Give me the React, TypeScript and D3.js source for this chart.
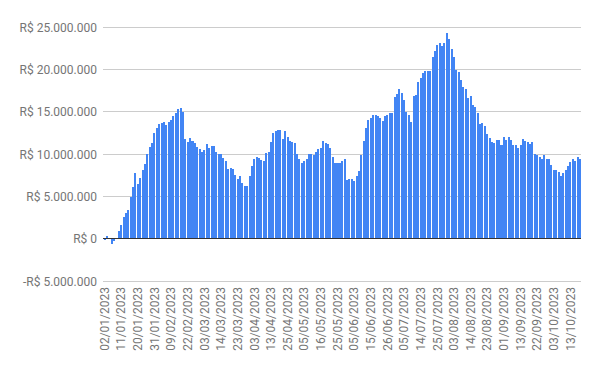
import React from "react";
import * as d3 from "d3";

// Net flow per trading day, in millions of R$
const netFlowMillions: number[] = [
  -0.27, 0.27, 0, -0.73, -0.35, 0, 0.85, 1.5, 2.5, 3.0,
  3.35, 4.9, 6.0, 7.7, 6.4, 7.1, 8.1, 8.8, 10.0, 10.8,
  11.2, 12.4, 13.0, 13.5, 13.6, 13.7, 13.4, 13.7, 14.0, 14.4,
  14.8, 15.2, 15.4, 14.9, 11.7, 11.4, 11.8, 11.5, 11.2, 10.8,
  10.5, 10.2, 10.4, 11.1, 10.7, 10.9, 10.9, 10.2, 10.0, 10.0,
  9.5, 9.1, 8.2, 8.3, 8.2, 7.5, 7.0, 7.3, 6.5, 6.2,
  6.2, 7.4, 8.5, 9.4, 9.6, 9.5, 9.2, 9.1, 10.1, 10.2,
  11.4, 12.4, 12.7, 12.8, 12.8, 11.7, 12.7, 12.0, 11.5, 11.4,
  11.2, 9.9, 9.4, 8.9, 9.1, 9.4, 10.0, 10.0, 9.8, 10.2,
  10.5, 10.7, 11.5, 11.2, 11.1, 10.7, 9.6, 8.9, 8.9, 8.9,
  9.1, 9.3, 6.9, 7.0, 7.0, 6.8, 7.3, 7.9, 9.8, 11.5,
  13.0, 13.9, 14.2, 14.5, 14.5, 14.4, 14.2, 13.8, 14.4, 14.5,
  14.8, 14.8, 16.7, 17.0, 17.6, 17.1, 16.3, 14.9, 14.5, 13.7,
  16.8, 16.9, 18.5, 18.9, 19.5, 19.7, 19.8, 19.8, 21.4, 22.1,
  22.8, 23.1, 22.7, 23.0, 24.2, 23.5, 22.4, 21.4, 19.9, 19.6,
  18.7, 17.8, 17.6, 16.6, 16.8, 15.7, 15.5, 14.8, 13.5, 13.6,
  13.3, 12.3, 11.8, 11.3, 11.2, 11.6, 11.6, 11.0, 12.0, 11.6,
  11.9, 11.6, 11.0, 11.0, 10.7, 11.0, 11.7, 11.5, 11.3, 11.1,
  11.3, 10.0, 9.8, 9.6, 9.3, 9.8, 9.3, 9.3, 8.7, 8.1,
  8.1, 7.8, 7.3, 7.7, 8.0, 8.5, 9.0, 9.4, 9.1, 9.6,
  9.3,
];

// Trading-day calendar (B3, 2023)
const firstDay = new Date(2023, 0, 2);
const lastDay = new Date(2023, 9, 19);
const holidays: string[] = [
  "2023-02-20", "2023-02-21", "2023-04-07", "2023-04-21",
  "2023-05-01", "2023-06-08", "2023-09-07", "2023-10-12",
];

const yTicks: number[] = [-5e6, 0, 5e6, 10e6, 15e6, 20e6, 25e6];
const labelEvery = 7;

const W = 600;
const H = 371;

const isoFmt = d3.timeFormat("%Y-%m-%d");
const dateFmt = d3.timeFormat("%d/%m/%Y");

const tradingDays: string[] = d3.timeDay
  .range(firstDay, d3.timeDay.offset(lastDay, 1))
  .filter((d) => d.getDay() !== 0 && d.getDay() !== 6 && !holidays.includes(isoFmt(d)))
  .map((d) => dateFmt(d));

const categories = tradingDays.slice(0, netFlowMillions.length);

function brl(v: number): string {
  if (v === 0) return "R$ 0";
  const s = d3.format(",")(Math.abs(v)).replace(/,/g, ".");
  return (v < 0 ? "-" : "") + "R$ " + s;
}

export default function App() {
  const left = 103.5;
  const right = 581;
  const x = d3
    .scaleBand<string>()
    .domain(categories)
    .range([left, right])
    .paddingInner(0.15)
    .paddingOuter(0.02);
  const y = d3.scaleLinear().domain([-5e6, 25e6]).range([280.5, 26.5]);
  const font = "Roboto, 'Noto Sans', Arial, sans-serif";
  const textColor = "#757575";

  return (
    <svg
      width={W}
      height={H}
      style={{ position: "absolute", left: 0, top: 0, background: "#fff" }}
      fontFamily={font}
    >
      <rect x={0} y={0} width={W} height={H} fill="#fff" />
      {yTicks.map((t) => {
        const yy = Math.round(y(t)) + 0.5;
        return (
          <g key={t}>
            {t !== 0 && (
              <line x1={left - 0.5} x2={right} y1={yy} y2={yy} stroke="#cccccc" strokeWidth={1} />
            )}
            <text x={97} y={yy} dy="0.35em" textAnchor="end" fontSize={12} fill={textColor}>
              {brl(t)}
            </text>
          </g>
        );
      })}
      {categories.map((c, i) => {
        const v = netFlowMillions[i] * 1e6;
        const x0 = Math.round(x(c) as number);
        const x1 = Math.round((x(c) as number) + x.bandwidth());
        const yTop = Math.round(y(Math.max(0, v)));
        const yBot = Math.round(y(Math.min(0, v)));
        return (
          <rect
            key={c}
            x={x0}
            y={yTop}
            width={Math.max(1, x1 - x0)}
            height={Math.max(0, yBot - yTop)}
            fill="#4285f4"
          />
        );
      })}
      <line
        x1={left - 0.5}
        x2={right}
        y1={Math.round(y(0)) + 0.5}
        y2={Math.round(y(0)) + 0.5}
        stroke="#333333"
        strokeWidth={1}
      />
      {categories.map((c, i) =>
        i % labelEvery === 0 ? (
          <text
            key={"l" + c}
            transform={`translate(${(x(c) as number) + x.bandwidth() / 2},287) rotate(-90)`}
            textAnchor="end"
            dy="0.35em"
            fontSize={12}
            fill={textColor}
          >
            {c}
          </text>
        ) : null
      )}
    </svg>
  );
}
